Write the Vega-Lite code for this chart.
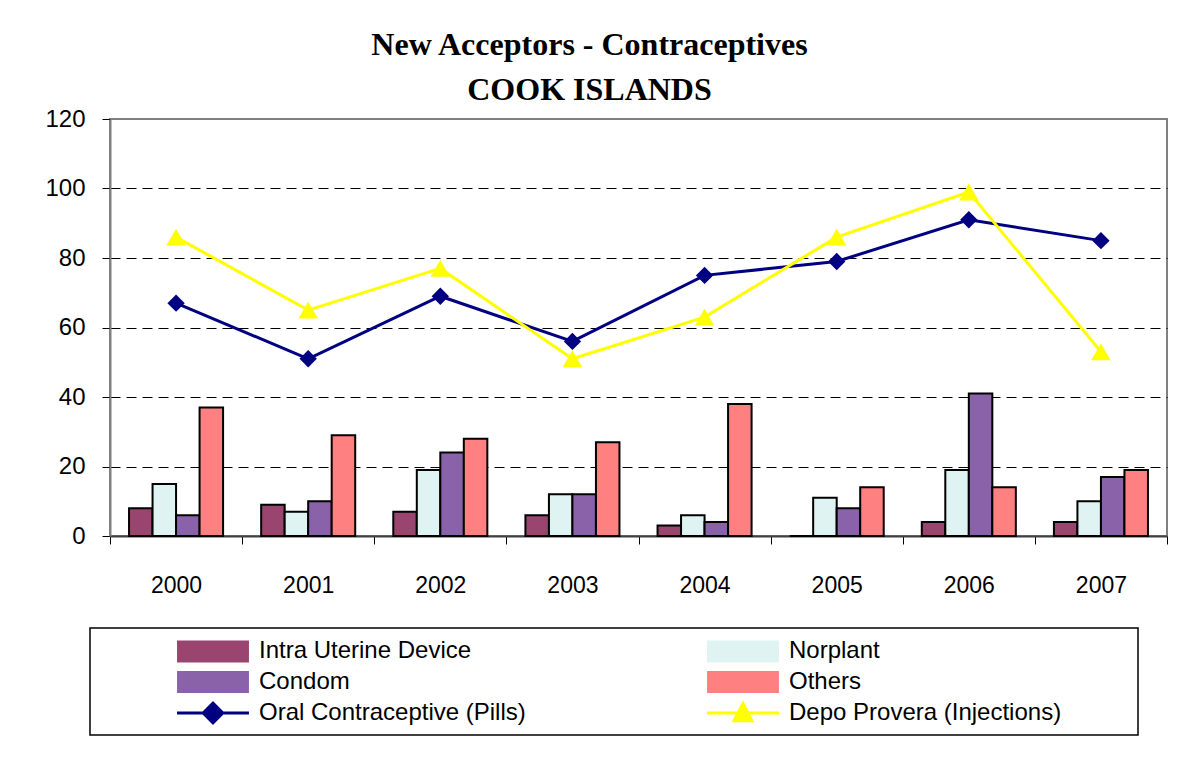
{
  "$schema": "https://vega.github.io/schema/vega-lite/v6.json",
  "width": 1057,
  "height": 417,
  "autosize": {"type": "none"},
  "padding": {"left": 110, "top": 119, "right": 14, "bottom": 221},
  "background": "white",
  "title": {
    "text": "New Acceptors - Contraceptives",
    "subtitle": "COOK ISLANDS",
    "font": "Liberation Serif", "fontSize": 32, "fontWeight": "bold", "color": "black",
    "subtitleFont": "Liberation Serif", "subtitleFontSize": 32, "subtitleFontWeight": "bold", "subtitleColor": "black",
    "anchor": "middle", "dx": -49, "offset": 0, "subtitlePadding": 13
  },
  "config": {
    "view": {"stroke": "#808080", "strokeWidth": 2},
    "axis": {"labelFont": "Liberation Sans", "labelColor": "black", "tickColor": "black", "tickSize": 8}
  },
  "data": {"values": [
    {"year": "2000", "series": "Intra Uterine Device", "value": 8},
    {"year": "2000", "series": "Norplant", "value": 15},
    {"year": "2000", "series": "Condom", "value": 6},
    {"year": "2000", "series": "Others", "value": 37},
    {"year": "2000", "series": "Oral Contraceptive (Pills)", "value": 67},
    {"year": "2000", "series": "Depo Provera (Injections)", "value": 86},
    {"year": "2001", "series": "Intra Uterine Device", "value": 9},
    {"year": "2001", "series": "Norplant", "value": 7},
    {"year": "2001", "series": "Condom", "value": 10},
    {"year": "2001", "series": "Others", "value": 29},
    {"year": "2001", "series": "Oral Contraceptive (Pills)", "value": 51},
    {"year": "2001", "series": "Depo Provera (Injections)", "value": 65},
    {"year": "2002", "series": "Intra Uterine Device", "value": 7},
    {"year": "2002", "series": "Norplant", "value": 19},
    {"year": "2002", "series": "Condom", "value": 24},
    {"year": "2002", "series": "Others", "value": 28},
    {"year": "2002", "series": "Oral Contraceptive (Pills)", "value": 69},
    {"year": "2002", "series": "Depo Provera (Injections)", "value": 77},
    {"year": "2003", "series": "Intra Uterine Device", "value": 6},
    {"year": "2003", "series": "Norplant", "value": 12},
    {"year": "2003", "series": "Condom", "value": 12},
    {"year": "2003", "series": "Others", "value": 27},
    {"year": "2003", "series": "Oral Contraceptive (Pills)", "value": 56},
    {"year": "2003", "series": "Depo Provera (Injections)", "value": 51},
    {"year": "2004", "series": "Intra Uterine Device", "value": 3},
    {"year": "2004", "series": "Norplant", "value": 6},
    {"year": "2004", "series": "Condom", "value": 4},
    {"year": "2004", "series": "Others", "value": 38},
    {"year": "2004", "series": "Oral Contraceptive (Pills)", "value": 75},
    {"year": "2004", "series": "Depo Provera (Injections)", "value": 63},
    {"year": "2005", "series": "Intra Uterine Device", "value": 0},
    {"year": "2005", "series": "Norplant", "value": 11},
    {"year": "2005", "series": "Condom", "value": 8},
    {"year": "2005", "series": "Others", "value": 14},
    {"year": "2005", "series": "Oral Contraceptive (Pills)", "value": 79},
    {"year": "2005", "series": "Depo Provera (Injections)", "value": 86},
    {"year": "2006", "series": "Intra Uterine Device", "value": 4},
    {"year": "2006", "series": "Norplant", "value": 19},
    {"year": "2006", "series": "Condom", "value": 41},
    {"year": "2006", "series": "Others", "value": 14},
    {"year": "2006", "series": "Oral Contraceptive (Pills)", "value": 91},
    {"year": "2006", "series": "Depo Provera (Injections)", "value": 99},
    {"year": "2007", "series": "Intra Uterine Device", "value": 4},
    {"year": "2007", "series": "Norplant", "value": 10},
    {"year": "2007", "series": "Condom", "value": 17},
    {"year": "2007", "series": "Others", "value": 19},
    {"year": "2007", "series": "Oral Contraceptive (Pills)", "value": 85},
    {"year": "2007", "series": "Depo Provera (Injections)", "value": 53}
  ]},
  "encoding": {
    "x": {
      "field": "year", "type": "ordinal",
      "scale": {"paddingInner": 0, "paddingOuter": 0},
      "axis": {"title": null, "labelAngle": 0, "tickBand": "extent", "labelPadding": 30, "labelFontSize": 23, "domainColor": "#404040", "domainWidth": 2, "grid": false}
    },
    "y": {
      "field": "value", "type": "quantitative",
      "scale": {"domain": [0, 120], "nice": false},
      "axis": {
        "title": null, "values": [0, 20, 40, 60, 80, 100, 120], "labelPadding": 17, "labelFontSize": 24,
        "domainColor": "#808080", "domainWidth": 2,
        "grid": true, "gridColor": "black", "gridDash": [10, 6], "gridWidth": 1,
        "gridOpacity": {"condition": {"test": "datum.value === 0 || datum.value === 120", "value": 0}, "value": 1}
      }
    },
    "color": {
      "field": "series", "type": "nominal",
      "scale": {
        "domain": ["Intra Uterine Device", "Condom", "Oral Contraceptive (Pills)", "Norplant", "Others", "Depo Provera (Injections)"],
        "range": ["#9a4470", "#8a62aa", "#000080", "#dff3f3", "#ff8080", "#ffff00"]
      },
      "legend": {
        "orient": "none", "legendX": -20, "legendY": 509, "columns": 2,
        "title": "\u00a0", "titleOrient": "right", "titlePadding": 70,
        "strokeColor": "black", "padding": 7, "rowPadding": 0, "columnPadding": 101,
        "symbolSize": 900, "symbolOffset": 100, "labelOffset": 30,
        "symbolStrokeColor": "black", "symbolStrokeWidth": 2,
        "labelFont": "Liberation Sans", "labelFontSize": 24, "labelColor": "black", "labelLimit": 500,
        "encode": {
          "legend": {"update": {"strokeWidth": {"value": 1.5}}},
          "symbols": {"update": {
            "shape": {"signal": "datum.value === 'Oral Contraceptive (Pills)' ? 'M-2.33,-0.04H2.33V0.04H-2.33Z M0,-0.7L0.7,0L0,0.7L-0.7,0Z' : datum.value === 'Depo Provera (Injections)' ? 'M-2.33,-0.04H2.33V0.04H-2.33Z M0,-0.7L0.65,0.55H-0.65Z' : 'M-2.33,-0.67H2.33V0.67H-2.33Z'"},
            "fill": {"signal": "scale('color', datum.value)"},
            "stroke": {"signal": "datum.value === 'Oral Contraceptive (Pills)' || datum.value === 'Depo Provera (Injections)' ? scale('color', datum.value) : 'black'"},
            "strokeWidth": {"value": 2},
            "strokeOpacity": {"value": 1},
            "opacity": {"value": 1},
            "fillOpacity": {"value": 1}
          }}
        }
      }
    }
  },
  "layer": [
    {
      "transform": [{"filter": {"field": "series", "oneOf": ["Intra Uterine Device", "Norplant", "Condom", "Others"]}}],
      "mark": {"type": "bar", "stroke": "black", "strokeWidth": 2, "opacity": 1},
      "encoding": {
        "xOffset": {"field": "series", "sort": ["Intra Uterine Device", "Norplant", "Condom", "Others"], "scale": {"paddingInner": 0, "paddingOuter": 0.81}}
      }
    },
    {
      "transform": [{"filter": {"field": "series", "oneOf": ["Oral Contraceptive (Pills)", "Depo Provera (Injections)"]}}],
      "mark": {"type": "line", "strokeWidth": 3},
      "encoding": {}
    },
    {
      "transform": [{"filter": {"field": "series", "oneOf": ["Oral Contraceptive (Pills)", "Depo Provera (Injections)"]}}],
      "mark": {"type": "point", "filled": true, "opacity": 1},
      "encoding": {
        "shape": {"field": "series", "type": "nominal", "scale": {"domain": ["Oral Contraceptive (Pills)", "Depo Provera (Injections)"], "range": ["diamond", "triangle-up"]}, "legend": null},
        "size": {"field": "series", "type": "nominal", "scale": {"domain": ["Oral Contraceptive (Pills)", "Depo Provera (Injections)"], "range": [300, 380]}, "legend": null}
      }
    }
  ]
}
